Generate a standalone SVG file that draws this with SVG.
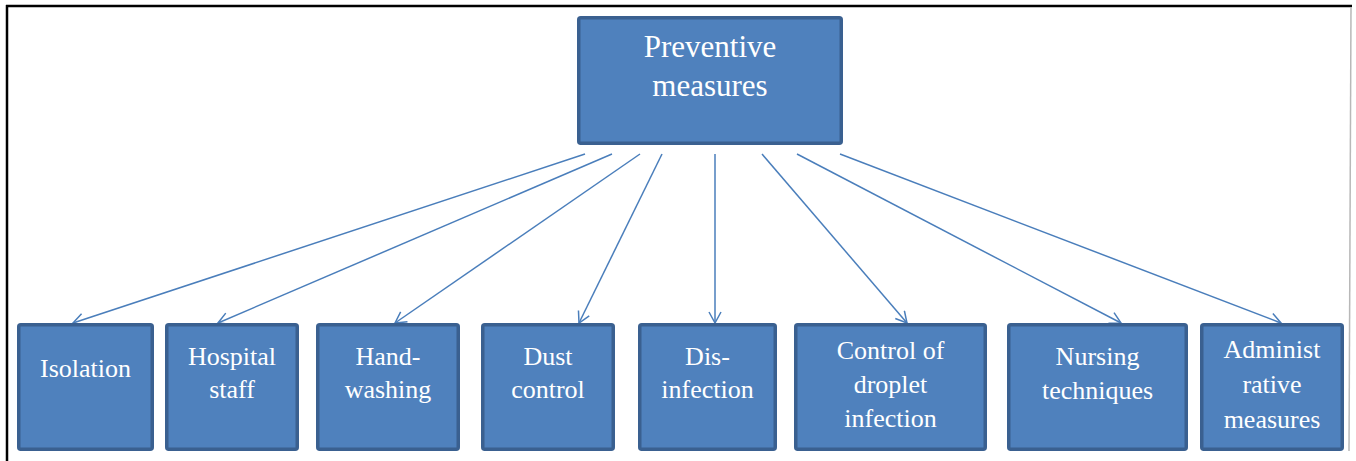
<svg xmlns="http://www.w3.org/2000/svg" width="1356" height="461" viewBox="0 0 1356 461">
<style>
.box{fill:#4f81bd;stroke:#3a6090;stroke-width:3.5}
.lbl{font-family:"Liberation Serif","Times New Roman",serif;fill:#ffffff;text-anchor:middle}
.top{font-size:31px}
.sm{font-size:26px}
.conn line{stroke:#4a7ebb;stroke-width:1.5;fill:none}
</style>
<defs>
<marker id="arr" markerUnits="userSpaceOnUse" markerWidth="20" markerHeight="20" refX="12" refY="7" orient="auto">
<path d="M1,1 L12,7 L1,13" fill="none" stroke="#4a7ebb" stroke-width="1.5"/>
</marker>
</defs>
<rect x="0" y="0" width="1356" height="461" fill="#ffffff"/>
<g id="frame">
<line x1="6" y1="6" x2="1352" y2="6" stroke="#000" stroke-width="2.5"/>
<line x1="7" y1="5" x2="7" y2="461" stroke="#000" stroke-width="2.5"/>
<line x1="1351" y1="7" x2="1349" y2="451" stroke="#b8b8b8" stroke-width="1.5"/>
</g>
<g class="conn" id="connectors">
<line x1="585" y1="154" x2="73" y2="323" marker-end="url(#arr)"/>
<line x1="612" y1="154" x2="218" y2="323" marker-end="url(#arr)"/>
<line x1="640" y1="154" x2="395" y2="323" marker-end="url(#arr)"/>
<line x1="662" y1="154" x2="579" y2="323" marker-end="url(#arr)"/>
<line x1="715" y1="154" x2="715" y2="323" marker-end="url(#arr)"/>
<line x1="762" y1="154" x2="907" y2="323" marker-end="url(#arr)"/>
<line x1="797" y1="154" x2="1121" y2="323" marker-end="url(#arr)"/>
<line x1="840" y1="154" x2="1281" y2="323" marker-end="url(#arr)"/>
</g>
<g id="preventive">
<rect class="box" x="578.75" y="17.75" width="262.5" height="125.5" rx="2"/>
<text class="lbl top" x="710" y="57">Preventive</text>
<text class="lbl top" x="710" y="96">measures</text>
</g>
<g id="isolation">
<rect class="box" x="18.75" y="324.75" width="133.5" height="124.5" rx="2"/>
<text class="lbl sm" x="85.5" y="377">Isolation</text>
</g>
<g id="hospital-staff">
<rect class="box" x="166.75" y="324.75" width="130.5" height="124.5" rx="2"/>
<text class="lbl sm" x="232" y="365">Hospital</text>
<text class="lbl sm" x="232" y="398">staff</text>
</g>
<g id="hand-washing">
<rect class="box" x="317.75" y="324.75" width="140.5" height="124.5" rx="2"/>
<text class="lbl sm" x="388" y="365">Hand-</text>
<text class="lbl sm" x="388" y="398">washing</text>
</g>
<g id="dust-control">
<rect class="box" x="482.75" y="324.75" width="130.5" height="124.5" rx="2"/>
<text class="lbl sm" x="548" y="365">Dust</text>
<text class="lbl sm" x="548" y="398">control</text>
</g>
<g id="dis-infection">
<rect class="box" x="639.75" y="324.75" width="135.5" height="124.5" rx="2"/>
<text class="lbl sm" x="707.5" y="365">Dis-</text>
<text class="lbl sm" x="707.5" y="398">infection</text>
</g>
<g id="droplet">
<rect class="box" x="795.75" y="324.75" width="189.5" height="124.5" rx="2"/>
<text class="lbl sm" x="890.5" y="359">Control of</text>
<text class="lbl sm" x="890.5" y="393">droplet</text>
<text class="lbl sm" x="890.5" y="427">infection</text>
</g>
<g id="nursing">
<rect class="box" x="1008.75" y="324.75" width="177.5" height="124.5" rx="2"/>
<text class="lbl sm" x="1097.5" y="365">Nursing</text>
<text class="lbl sm" x="1097.5" y="399">techniques</text>
</g>
<g id="administrative">
<rect class="box" x="1201.75" y="324.75" width="140.5" height="124.5" rx="2"/>
<text class="lbl sm" x="1272" y="358">Administ</text>
<text class="lbl sm" x="1272" y="393">rative</text>
<text class="lbl sm" x="1272" y="428">measures</text>
</g>
</svg>
